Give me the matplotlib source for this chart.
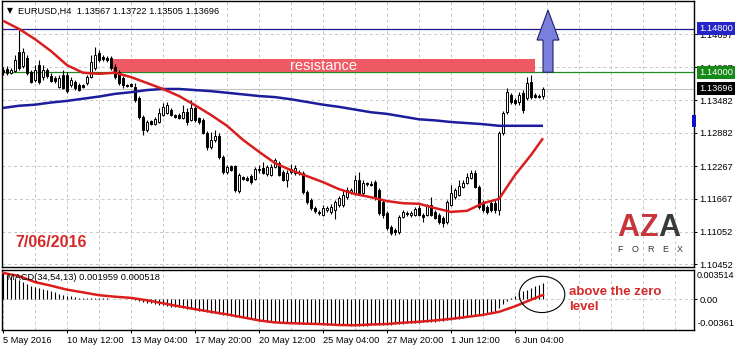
import matplotlib
matplotlib.use("Agg")
import matplotlib.pyplot as plt
import numpy as np
from matplotlib.patches import Rectangle, Polygon, Ellipse

plt.rcParams['font.family'] = ['Liberation Sans', 'DejaVu Sans']

# ---------------- data ----------------
symbol = "EURUSD,H4"
opens = [1.1404, 1.1406, 1.1399, 1.1402, 1.1437, 1.1411, 1.1426, 1.1400, 1.1386, 1.1413,
         1.1391, 1.1404, 1.1393, 1.1389, 1.1373, 1.1395, 1.1395, 1.1376, 1.1382, 1.1376,
         1.1376, 1.1380, 1.1391, 1.1408, 1.1436, 1.1428, 1.1426, 1.1426, 1.1410, 1.1400,
         1.1389, 1.1376, 1.1378, 1.1373, 1.1352, 1.1317, 1.1293, 1.1310, 1.1304, 1.1308,
         1.1321, 1.1325, 1.1330, 1.1321, 1.1321, 1.1315, 1.1326, 1.1312, 1.1334, 1.1315,
         1.1312, 1.1288, 1.1262, 1.1275, 1.1282, 1.1243, 1.1216, 1.1227, 1.1227, 1.1181,
         1.1206, 1.1205, 1.1208, 1.1203, 1.1219, 1.1223, 1.1212, 1.1210, 1.1225, 1.1232,
         1.1216, 1.1201, 1.1216, 1.1214, 1.1216, 1.1214, 1.1179, 1.1164, 1.1149, 1.1142,
         1.1136, 1.1145, 1.1142, 1.1145, 1.1155, 1.1155, 1.1169, 1.1179, 1.1177, 1.1201,
         1.1177, 1.1195, 1.1193, 1.1197, 1.1182, 1.1160, 1.1140, 1.1114, 1.1109, 1.1105,
         1.1133, 1.1138, 1.1136, 1.1136, 1.1149, 1.1136, 1.1136, 1.1155, 1.1142, 1.1136,
         1.1131, 1.1123, 1.1155, 1.1169, 1.1173, 1.1188, 1.1195, 1.1205, 1.1214, 1.1188,
         1.1160, 1.1151, 1.1158, 1.1158, 1.1145, 1.1288, 1.1326, 1.1358, 1.1349, 1.1345,
         1.1362, 1.1352, 1.1382, 1.1358, 1.1356, 1.13567]
highs = [1.1410, 1.1411, 1.1408, 1.1432, 1.1478, 1.1445, 1.1432, 1.1404, 1.1413, 1.1423,
         1.1413, 1.1408, 1.1399, 1.1393, 1.1395, 1.1404, 1.1400, 1.1391, 1.1386, 1.1380,
         1.1378, 1.1395, 1.1432, 1.1447, 1.1441, 1.1432, 1.1430, 1.1430, 1.1415, 1.1404,
         1.1393, 1.1378, 1.1380, 1.1380, 1.1356, 1.1321, 1.1312, 1.1312, 1.1317, 1.1334,
         1.1343, 1.1345, 1.1334, 1.1323, 1.1325, 1.1339, 1.1334, 1.1349, 1.1338, 1.1317,
         1.1315, 1.1291, 1.1290, 1.1293, 1.1288, 1.1247, 1.1229, 1.1229, 1.1229, 1.1214,
         1.1208, 1.1208, 1.1212, 1.1225, 1.1229, 1.1234, 1.1229, 1.1230, 1.1242, 1.1236,
         1.1219, 1.1219, 1.1230, 1.1229, 1.1219, 1.1218, 1.1182, 1.1168, 1.1153, 1.1145,
         1.1155, 1.1153, 1.1157, 1.1164, 1.1171, 1.1182, 1.1188, 1.1186, 1.1210, 1.1216,
         1.1201, 1.1197, 1.1199, 1.1201, 1.1186, 1.1164, 1.1144, 1.1118, 1.1112, 1.1136,
         1.1145, 1.1144, 1.1144, 1.1151, 1.1155, 1.1140, 1.1157, 1.1169, 1.1145, 1.1140,
         1.1134, 1.1164, 1.1192, 1.1186, 1.1201, 1.1201, 1.1214, 1.1219, 1.1219, 1.1192,
         1.1164, 1.1155, 1.1164, 1.1164, 1.1291, 1.1328, 1.1371, 1.1362, 1.1352, 1.1363,
         1.1367, 1.1391, 1.1395, 1.1362, 1.1360, 1.13722]
lows = [1.1395, 1.1395, 1.1397, 1.1400, 1.1404, 1.1408, 1.1395, 1.1380, 1.1382, 1.1378,
        1.1386, 1.1389, 1.1382, 1.1380, 1.1371, 1.1369, 1.1362, 1.1373, 1.1367, 1.1365,
        1.1371, 1.1376, 1.1389, 1.1404, 1.1419, 1.1421, 1.1419, 1.1404, 1.1387, 1.1376,
        1.1371, 1.1373, 1.1373, 1.1345, 1.1314, 1.1284, 1.1290, 1.1302, 1.1302, 1.1306,
        1.1319, 1.1323, 1.1319, 1.1315, 1.1314, 1.1314, 1.1302, 1.1310, 1.1308, 1.1304,
        1.1286, 1.1256, 1.1258, 1.1271, 1.1240, 1.1212, 1.1212, 1.1218, 1.1179, 1.1177,
        1.1201, 1.1199, 1.1193, 1.1201, 1.1214, 1.1212, 1.1208, 1.1208, 1.1223, 1.1208,
        1.1199, 1.1188, 1.1212, 1.1210, 1.1210, 1.1175, 1.1157, 1.1145, 1.1140, 1.1136,
        1.1134, 1.1142, 1.1138, 1.1129, 1.1151, 1.1151, 1.1166, 1.1175, 1.1173, 1.1173,
        1.1173, 1.1190, 1.1190, 1.1164, 1.1136, 1.1131, 1.1109, 1.1099, 1.1099, 1.1101,
        1.1131, 1.1134, 1.1133, 1.1134, 1.1134, 1.1123, 1.1134, 1.1134, 1.1129, 1.1120,
        1.1114, 1.1120, 1.1153, 1.1166, 1.1171, 1.1186, 1.1193, 1.1203, 1.1186, 1.1147,
        1.1142, 1.1138, 1.1142, 1.1140, 1.1136, 1.1284, 1.1323, 1.1341, 1.1339, 1.1339,
        1.1325, 1.1349, 1.1350, 1.1352, 1.1352, 1.13505]
closes = [1.1400, 1.1399, 1.1404, 1.1423, 1.1408, 1.1437, 1.1399, 1.1382, 1.1404, 1.1382,
          1.1404, 1.1393, 1.1384, 1.1384, 1.1389, 1.1371, 1.1365, 1.1386, 1.1371, 1.1367,
          1.1373, 1.1391, 1.1419, 1.1432, 1.1423, 1.1424, 1.1422, 1.1408, 1.1391, 1.1380,
          1.1376, 1.1374, 1.1374, 1.1349, 1.1317, 1.1293, 1.1308, 1.1304, 1.1314, 1.1325,
          1.1336, 1.1339, 1.1321, 1.1317, 1.1315, 1.1326, 1.1308, 1.1334, 1.1312, 1.1308,
          1.1288, 1.1262, 1.1275, 1.1282, 1.1243, 1.1216, 1.1225, 1.1219, 1.1182, 1.1210,
          1.1203, 1.1201, 1.1197, 1.1221, 1.1221, 1.1214, 1.1225, 1.1225, 1.1238, 1.1210,
          1.1201, 1.1214, 1.1221, 1.1223, 1.1214, 1.1179, 1.1160, 1.1149, 1.1144, 1.1140,
          1.1149, 1.1149, 1.1151, 1.1160, 1.1168, 1.1173, 1.1182, 1.1182, 1.1201, 1.1177,
          1.1195, 1.1193, 1.1192, 1.1168, 1.1140, 1.1136, 1.1112, 1.1103, 1.1105, 1.1133,
          1.1142, 1.1140, 1.1140, 1.1147, 1.1136, 1.1133, 1.1153, 1.1136, 1.1131, 1.1123,
          1.1122, 1.1160, 1.1177, 1.1182, 1.1190, 1.1195, 1.1206, 1.1214, 1.1188, 1.1151,
          1.1145, 1.1142, 1.1145, 1.1145, 1.1288, 1.1325, 1.1363, 1.1345, 1.1343, 1.1358,
          1.1330, 1.1380, 1.1354, 1.1354, 1.1354, 1.13696]

# moving averages / MACD signal sampled every 4 bars (bar index)
line_bars = [0, 4, 8, 12, 16, 20, 24, 28, 32, 36, 40, 44, 48, 52, 56, 60, 64, 68,
             72, 76, 80, 84, 88, 92, 96, 100, 104, 108, 112, 116, 120, 124, 128, 132, 135]
ma_fast = [1.1495, 1.1480, 1.1461, 1.1439, 1.1413, 1.1399, 1.1397, 1.1399, 1.1391, 1.1380,
           1.1369, 1.1356, 1.1339, 1.1321, 1.1301, 1.1275, 1.1253, 1.1232, 1.1219, 1.1208,
           1.1197, 1.1184, 1.1175, 1.1169, 1.1162, 1.1158, 1.1157, 1.1149, 1.1142, 1.1144,
           1.1158, 1.1166, 1.1210, 1.1247, 1.1278]
ma_slow = [1.1334, 1.1338, 1.1340, 1.1344, 1.1347, 1.1351, 1.1355, 1.1360, 1.1363, 1.1367,
           1.1369, 1.1369, 1.1367, 1.1365, 1.1362, 1.1359, 1.1356, 1.1354, 1.1350, 1.1345,
           1.1340, 1.1336, 1.1331, 1.1326, 1.1323, 1.1318, 1.1313, 1.1311, 1.1308, 1.1306,
           1.1304, 1.1301, 1.1301, 1.1301, 1.1301]
macd_signal = [0.00312, 0.00274, 0.00203, 0.00161, 0.00114, 0.00082, 0.00049, 0.00031,
               0.00017, -0.00011, -0.00046, -0.00082, -0.00115, -0.00147, -0.00177, -0.00212,
               -0.00248, -0.00272, -0.00281, -0.00287, -0.00292, -0.00302, -0.00305, -0.00296,
               -0.00290, -0.00275, -0.00264, -0.00248, -0.00230, -0.00207, -0.00183, -0.00147,
               -0.00082, -0.00005, 0.000518]
macd_main = [0.00312, 0.00292, 0.00272, 0.00245, 0.00224, 0.00201, 0.00185, 0.00161, 0.00146, 0.00134,
             0.00122, 0.00106, 0.00094, 0.00082, 0.00066, 0.00055, 0.00043, 0.00034, 0.00027, 0.00021,
             0.00018, 0.00015, 0.00014, 0.00015, 0.00014, 0.00012, 0.00011, 0.00008, 0.00006, 0.00005,
             0.00003, 0.00002, 0.00001, -0.00005, -0.00025, -0.00032, -0.00039, -0.00046, -0.00055, -0.00064,
             -0.00072, -0.00080, -0.00088, -0.00092, -0.00096, -0.00102, -0.00108, -0.00115, -0.00123, -0.00132,
             -0.00140, -0.00148, -0.00156, -0.00163, -0.00171, -0.00179, -0.00187, -0.00195, -0.00203, -0.00210,
             -0.00217, -0.00224, -0.00230, -0.00242, -0.00254, -0.00258, -0.00262, -0.00266, -0.00269, -0.00272,
             -0.00275, -0.00278, -0.00281, -0.00283, -0.00285, -0.00287, -0.00289, -0.00291, -0.00293, -0.00295,
             -0.00297, -0.00299, -0.00300, -0.00301, -0.00303, -0.00305, -0.00307, -0.00309, -0.00310, -0.00310,
             -0.00310, -0.00309, -0.00307, -0.00305, -0.00303, -0.00301, -0.00299, -0.00297, -0.00294, -0.00290,
             -0.00286, -0.00283, -0.00280, -0.00277, -0.00274, -0.00271, -0.00268, -0.00265, -0.00262, -0.00257,
             -0.00252, -0.00247, -0.00242, -0.00234, -0.00226, -0.00218, -0.00210, -0.00200, -0.00190, -0.00180,
             -0.00171, -0.00162, -0.00152, -0.00140, -0.00100, -0.00060, -0.00020, 0.00015, 0.00040, 0.00075,
             0.00094, 0.00114, 0.00134, 0.00153, 0.00173, 0.001959]

time_label_bars = [0, 16, 32, 48, 64, 80, 96, 112, 128]
time_labels = ["5 May 2016", "10 May 12:00", "13 May 04:00", "17 May 20:00", "20 May 12:00",
               "25 May 04:00", "27 May 20:00", "1 Jun 12:00", "6 Jun 04:00"]
price_ticks = [1.14697, 1.14087, 1.13482, 1.12882, 1.12267, 1.11667, 1.11052, 1.10452]
level_high = 1.14800
level_res = 1.14000
res_top = 1.14243
res_start_bar, res_end_bar = 27.4, 133.0
macd_top, macd_bottom = 0.003514, -0.00361

# ---------------- layout ----------------
W, H = 737, 351
fig = plt.figure(figsize=(W / 100, H / 100), dpi=100)
fig.patch.set_facecolor('white')


def fx(px):
    return px / W


def fy(py):
    return 1 - py / H


ax = fig.add_axes([fx(2), fy(267), fx(694) - fx(2), fy(1) - fy(267)])
ax2 = fig.add_axes([fx(2), fy(330), fx(694) - fx(2), fy(269.5) - fy(330)])
xlim = (-0.25, 172.75)

grid_kw = dict(color='#c6c6c6', linestyle=(0, (3, 3)), linewidth=0.7)
fs = 6.7

# ---------------- main price panel ----------------
ax.set_xlim(*xlim)
ax.set_ylim(1.10402, 1.15315)
ax.yaxis.tick_right()
ax.set_yticks(price_ticks)
ax.set_yticklabels([f"{v:.5f}" for v in price_ticks])
ax.tick_params(axis='y', length=2.2, width=0.7, pad=1.5, labelsize=fs)
ax.set_xticks(np.arange(8, 173, 8))
ax.tick_params(axis='x', length=0, labelbottom=False)
ax.grid(True, **grid_kw)
ax.set_axisbelow(True)
for s in ax.spines.values():
    s.set_color('black')
    s.set_linewidth(1.0)

o = np.array(opens); h = np.array(highs); l = np.array(lows); c = np.array(closes)
xb = np.arange(len(c))

ax.axhline(level_res, color='#1f8a1f', lw=0.9, zorder=2)
ax.axhline(level_high, color='#1a1a8c', lw=0.9, zorder=2)
ax.axhline(c[-1], color='#c0c0c0', lw=0.8, zorder=2)

ax.add_patch(Rectangle((res_start_bar, level_res), res_end_bar - res_start_bar, res_top - level_res,
                       facecolor='#ee4c58', edgecolor='none', alpha=0.92, zorder=2.5))
ax.text((res_start_bar + res_end_bar) / 2, (res_top + level_res) / 2, "resistance",
        color='white', fontsize=10.5, ha='center', va='center', zorder=7)

up = c >= o
body_lo = np.minimum(o, c)
body_h = np.maximum(np.abs(c - o), 0.00003)
ax.vlines(xb, l, h, color='black', lw=0.8, zorder=3)
ax.bar(xb, body_h, bottom=body_lo, width=0.6, color=np.where(up, 'white', 'black'),
       edgecolor='black', linewidth=0.7, zorder=4)

ax.plot(line_bars, ma_slow, color='#1c1c9c', lw=1.8, zorder=5, solid_capstyle='butt')
ax.plot(line_bars, ma_fast, color='#d81e1e', lw=1.8, zorder=5, solid_capstyle='butt')

# blue arrow
ab = 136.25
arrow_pts = [(ab - 1.25, level_res), (ab + 1.25, level_res), (ab + 1.25, 1.14594),
             (ab + 2.75, 1.14594), (ab, 1.15148), (ab - 2.75, 1.14594), (ab - 1.25, 1.14594)]
ax.add_patch(Polygon(arrow_pts, closed=True, facecolor='#7b80dc', edgecolor='#22226a',
                     lw=0.8, zorder=6))

# price boxes at right
ytr = ax.get_yaxis_transform()
for val, col in [(level_high, '#2424c8'), (level_res, '#168a16'), (c[-1], 'black')]:
    ax.text(1 + 5 / 692, val, f"{val:.5f}", transform=ytr, ha='left', va='center',
            color='white', fontsize=fs, clip_on=False, zorder=10,
            bbox=dict(boxstyle='square,pad=0.22', facecolor=col, edgecolor='none'))

# title
fig.text(fx(7), fy(11), "\u25bc", fontsize=5.5, family='DejaVu Sans', va='center', ha='left')
fig.text(fx(18), fy(11), f"{symbol}  {o[-1]:.5f} {h[-1]:.5f} {l[-1]:.5f} {c[-1]:.5f}",
         fontsize=fs, va='center', ha='left')

# date and logo
fig.text(fx(15), fy(242.5), "7/06/2016", color='#d42a2a', fontsize=11.5,
         fontweight='bold', va='center', ha='left')
for ch, cx, col in [("A", 628, '#c8353a'), ("Z", 648.5, '#c8353a'), ("A", 669, '#3a3a3a')]:
    fig.text(fx(cx), fy(235.5), ch, color=col, fontsize=22, fontweight='bold',
             ha='center', va='baseline')
for ch, cx in zip("FOREX", [620, 635, 650, 665, 680]):
    fig.text(fx(cx), fy(249), ch, color='#3a3a3a', fontsize=6.5, ha='center', va='center')

# ---------------- MACD panel ----------------
ax2.set_xlim(*xlim)
ax2.set_ylim(macd_bottom, macd_top)
ax2.yaxis.tick_right()
ax2.set_yticks([0])
ax2.set_yticklabels(["0.00"])
ax2.tick_params(axis='y', length=2.2, width=0.7, pad=1.5, labelsize=fs)
ax2.set_xticks(time_label_bars)
ax2.set_xticklabels(time_labels, ha='left')
ax2.set_xticks(np.arange(8, 173, 8), minor=True)
ax2.tick_params(axis='x', which='major', length=2.5, width=0.7, pad=1.5, labelsize=fs)
ax2.tick_params(axis='x', which='minor', length=0)
ax2.grid(True, which='both', **grid_kw)
ax2.set_axisbelow(True)
for s in ax2.spines.values():
    s.set_color('black')
    s.set_linewidth(1.0)

ax2.vlines(xb, 0, macd_main, color='black', lw=0.8, zorder=3)
ax2.plot(line_bars, macd_signal, color='#dd1c1c', lw=1.8, zorder=4)

ax2.annotate(f"{macd_top:.6f}", xy=(1, macd_top), xycoords=('axes fraction', 'data'),
             xytext=(2, -4.5), textcoords='offset points', va='center', ha='left',
             fontsize=6.5, annotation_clip=False)
ax2.annotate(f"{macd_bottom:.5f}", xy=(1, macd_bottom), xycoords=('axes fraction', 'data'),
             xytext=(2.5, 5), textcoords='offset points', va='center', ha='left',
             fontsize=fs, annotation_clip=False)

fig.text(fx(7), fy(278), f"MACD(34,54,13) {macd_main[-1]:.6f} {macd_signal[-1]:.6f}",
         fontsize=fs, va='center', ha='left', zorder=1)

ax2.add_patch(Ellipse((134.75, 0.00058), 11.4, 0.00427, fill=False, edgecolor='black',
                      lw=0.8, clip_on=False, zorder=6))
fig.text(fx(569), fy(292), "above the zero", color='#d42a2a', fontsize=9.5,
         fontweight='bold', va='center', ha='left')
fig.text(fx(569), fy(307), "level", color='#d42a2a', fontsize=9.5,
         fontweight='bold', va='center', ha='left')

# small blue shift marker on the right edge
fig.patches.append(Rectangle((fx(692), fy(127)), fx(4), 12 / H, transform=fig.transFigure,
                             facecolor='#1010d0', edgecolor='none', zorder=10))

fig.savefig("out.png", dpi=100)
